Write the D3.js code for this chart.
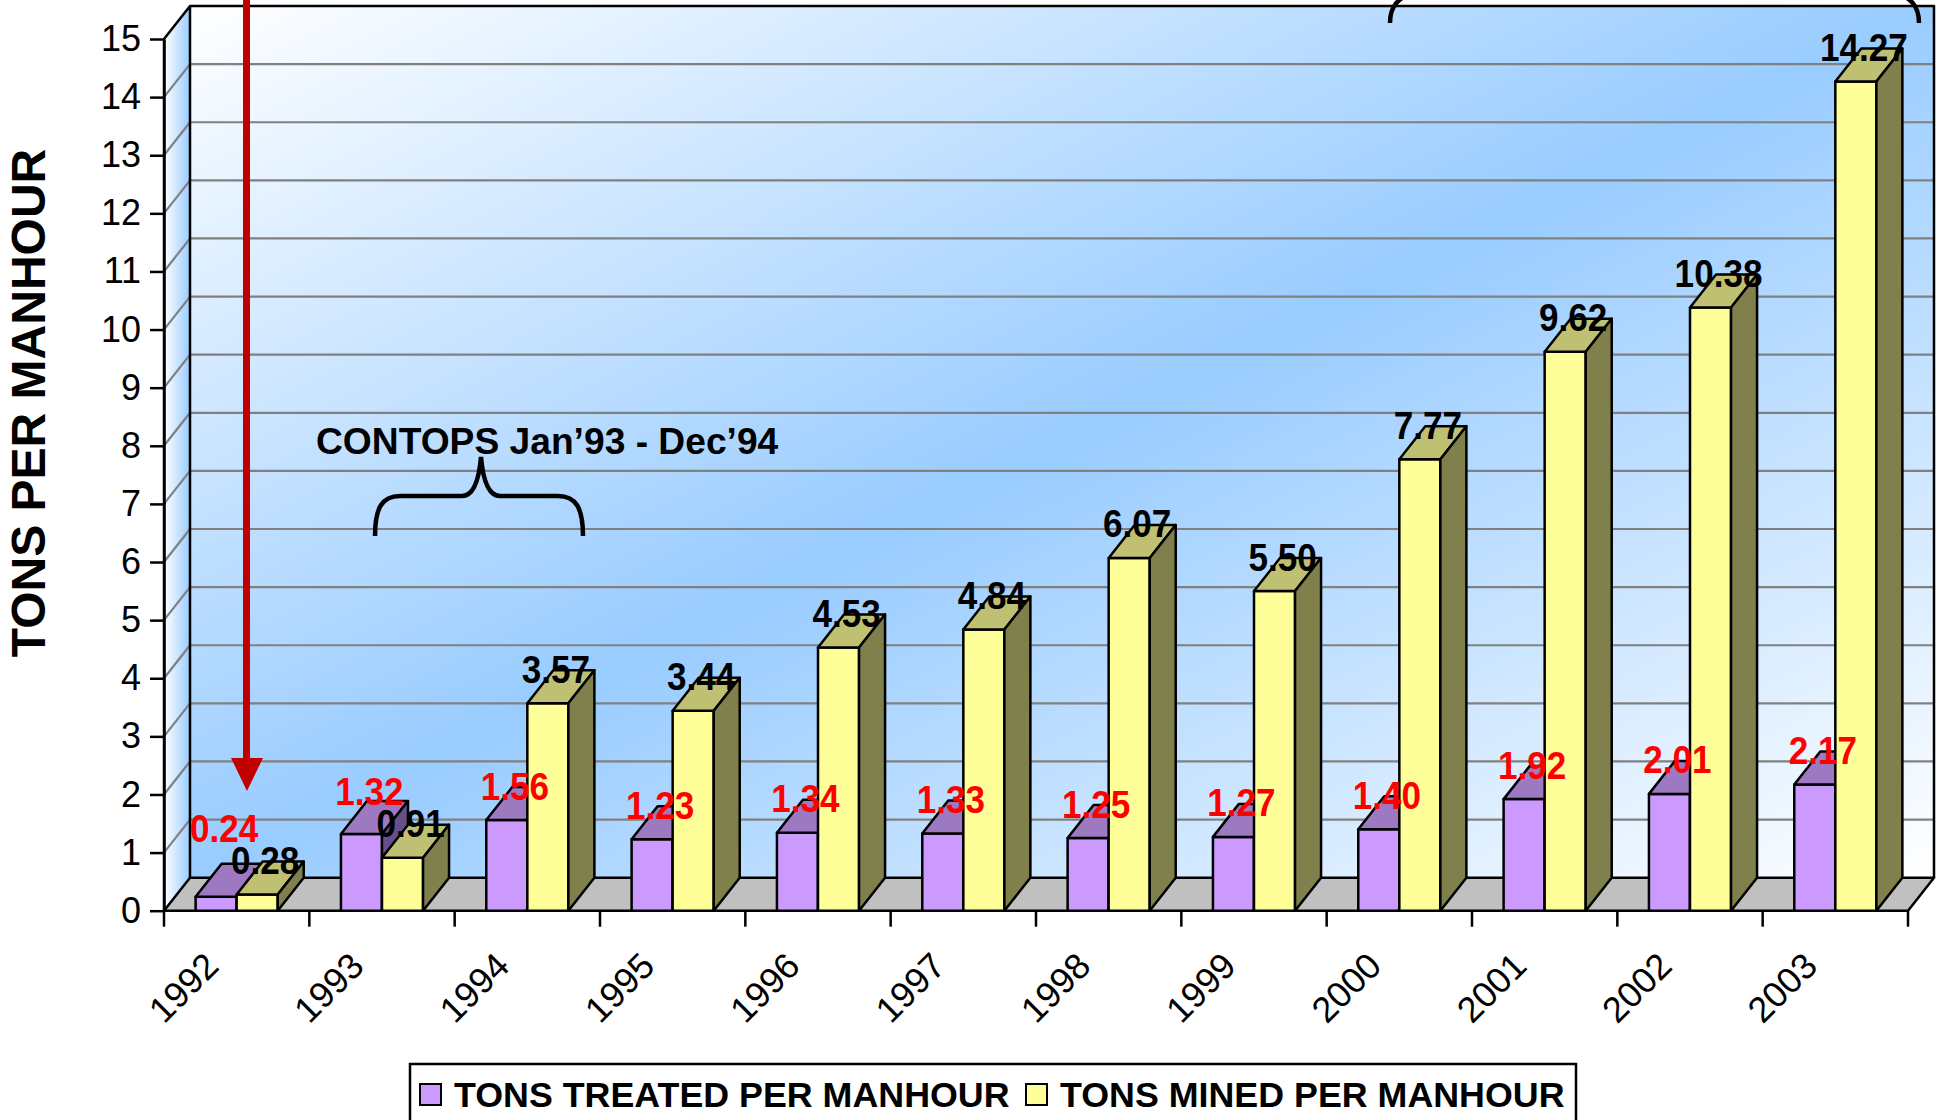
<!DOCTYPE html>
<html>
<head>
<meta charset="utf-8">
<script src="https://cdn.jsdelivr.net/npm/d3@7"></script>
<style>
  body { margin: 0; background: #fff; }
  svg { display: block; font-family: "Liberation Sans", Arial, sans-serif; }
</style>
</head>
<body>
<svg id="chart" width="1946" height="1120"></svg>
<script>
// ==========================================================================
// DATA
// ==========================================================================

var years = ["1992", "1993", "1994", "1995", "1996", "1997", "1998", "1999", "2000", "2001", "2002", "2003"];
var treated = [0.24, 1.32, 1.56, 1.23, 1.34, 1.33, 1.25, 1.27, 1.40, 1.92, 2.01, 2.17];
var mined = [0.28, 0.91, 3.57, 3.44, 4.53, 4.84, 6.07, 5.50, 7.77, 9.62, 10.38, 14.27];
var seriesNames = ["TONS TREATED PER MANHOUR", "TONS MINED PER MANHOUR"];
var yTicks = d3.range(0, 16);
var yTitle = "TONS PER MANHOUR";
var note = "CONTOPS Jan\u201993 - Dec\u201994";

// ==========================================================================
// D3 MAIN
// ==========================================================================

var series = [
  {name: seriesNames[0], values: treated, front: "#cc99ff", top: "#9d79c2", side: "#66508a", label: "#ff0000"},
  {name: seriesNames[1], values: mined, front: "#ffff99", top: "#c0c073", side: "#80804c", label: "#000000"}
];

var svg = d3.select("#chart");
var dx = 26, dy = 33;

var x = d3.scaleBand().domain(years).range([164, 1908]);
var xs = d3.scaleBand().domain([0, 1]).range([0, x.bandwidth()]).paddingOuter(0.77);
var y = d3.scaleLinear().domain([0, 15]).range([910.7, 39]);

var x0 = x.range()[0], x1 = x.range()[1], yb = y(0), yt = y(15);

// gradients
var defs = svg.append("defs");
var wall = defs.append("linearGradient").attr("id", "wallGrad")
  .attr("x1", 0).attr("y1", 0).attr("x2", 1).attr("y2", 1);
wall.append("stop").attr("offset", 0).attr("stop-color", "#ffffff");
wall.append("stop").attr("offset", 0.5).attr("stop-color", "#99ccff");
wall.append("stop").attr("offset", 1).attr("stop-color", "#ffffff");
var side = defs.append("linearGradient").attr("id", "sideGrad")
  .attr("x1", 0).attr("y1", 0).attr("x2", 1).attr("y2", 0);
side.append("stop").attr("offset", 0).attr("stop-color", "#ffffff");
side.append("stop").attr("offset", 1).attr("stop-color", "#99ccff");

// walls
svg.append("rect")
  .attr("x", x0 + dx).attr("y", yt - dy)
  .attr("width", x1 - x0).attr("height", yb - yt)
  .attr("fill", "url(#wallGrad)");
svg.append("path")
  .attr("d", "M" + x0 + "," + yt + "L" + (x0 + dx) + "," + (yt - dy) + "L" + (x0 + dx) + "," + (yb - dy) + "L" + x0 + "," + yb + "Z")
  .attr("fill", "url(#sideGrad)");

// gridlines
var inner = yTicks.filter(v => v > 0 && v < 15);
var grid = svg.append("g").attr("stroke", "#808080").attr("stroke-width", 2.2);
grid.selectAll(".gb").data(inner).enter().append("line")
  .attr("x1", x0 + dx).attr("x2", x1 + dx)
  .attr("y1", d => y(d) - dy).attr("y2", d => y(d) - dy);
grid.selectAll(".gs").data(inner).enter().append("line")
  .attr("x1", x0).attr("x2", x0 + dx)
  .attr("y1", d => y(d)).attr("y2", d => y(d) - dy);

// floor
svg.append("path")
  .attr("d", "M" + x0 + "," + yb + "L" + x1 + "," + yb + "L" + (x1 + dx) + "," + (yb - dy) + "L" + (x0 + dx) + "," + (yb - dy) + "Z")
  .attr("fill", "#c0c0c0").attr("stroke", "#000").attr("stroke-width", 2.5).attr("stroke-linejoin", "round");

// wall outlines
svg.append("path")
  .attr("d", "M" + x0 + "," + yb + "L" + x0 + "," + yt + "L" + (x0 + dx) + "," + (yt - dy) + "L" + (x1 + dx) + "," + (yt - dy) + "L" + (x1 + dx) + "," + (yb - dy)
    + "M" + (x0 + dx) + "," + (yt - dy) + "L" + (x0 + dx) + "," + (yb - dy))
  .attr("fill", "none").attr("stroke", "#000").attr("stroke-width", 2.5).attr("stroke-linejoin", "round");

// bars
var bars = svg.append("g").attr("stroke", "#000").attr("stroke-width", 2.5).attr("stroke-linejoin", "round");
years.forEach(function(yr, i) {
  series.forEach(function(s, k) {
    var bx = x(yr) + xs(k), w = xs.bandwidth(), top = y(s.values[i]);
    bars.append("rect").attr("x", bx).attr("y", top).attr("width", w).attr("height", yb - top).attr("fill", s.front);
    bars.append("path")
      .attr("d", "M" + bx + "," + top + "L" + (bx + dx) + "," + (top - dy) + "L" + (bx + w + dx) + "," + (top - dy) + "L" + (bx + w) + "," + top + "Z")
      .attr("fill", s.top);
    bars.append("path")
      .attr("d", "M" + (bx + w) + "," + top + "L" + (bx + w + dx) + "," + (top - dy) + "L" + (bx + w + dx) + "," + (yb - dy) + "L" + (bx + w) + "," + yb + "Z")
      .attr("fill", s.side);
  });
});

// value labels: centred on the top face, treated label pushed up when it would hit the mined one
var labelSize = 39, capH = 28;
var labelPos = series.map(function(s, k) {
  return s.values.map(function(v, i) {
    return {x: x(years[i]) + xs(k) + xs.bandwidth() / 2 + 8, y: y(v) - dy + 12.5, v: v};
  });
});
labelPos[0].forEach(function(p, i) {
  var m = labelPos[1][i];
  if (Math.abs(p.y - m.y) < capH + 4) p.y = m.y - capH - 4;
});
series.forEach(function(s, k) {
  svg.append("g").selectAll("text").data(labelPos[k]).enter().append("text")
    .attr("transform", d => "translate(" + d.x + "," + d.y + ") scale(0.9,1)")
    .attr("text-anchor", "middle")
    .attr("font-size", labelSize).attr("font-weight", "bold")
    .attr("fill", s.label)
    .text(d => d.v.toFixed(2));
});

// y axis
var yAxis = d3.axisLeft(y).tickValues(yTicks).tickSize(14).tickPadding(9).tickSizeOuter(0);
var gy = svg.append("g").attr("transform", "translate(" + x0 + ",0)").call(yAxis);
gy.attr("font-family", null).attr("font-size", 36);
gy.select(".domain").attr("stroke-width", 2.5);
gy.selectAll(".tick line").attr("stroke-width", 2.5);
gy.selectAll(".tick text").attr("fill", "#000");

// x ticks and labels
svg.append("g").selectAll("line").data(years.map(d => x(d)).concat([x1])).enter().append("line")
  .attr("x1", d => d).attr("x2", d => d).attr("y1", yb).attr("y2", yb + 16)
  .attr("stroke", "#000").attr("stroke-width", 2.5);
svg.append("g").selectAll("text").data(years).enter().append("text")
  .attr("transform", d => "translate(" + (x(d) + x.bandwidth() / 2 - 16) + ",968) rotate(-45)")
  .attr("text-anchor", "end").attr("font-size", 36)
  .text(d => d);

// y title
svg.append("text")
  .attr("transform", "translate(45,403) rotate(-90)")
  .attr("text-anchor", "middle").attr("font-size", 48).attr("font-weight", "bold")
  .text(yTitle);

// annotations
svg.append("text").attr("x", 316).attr("y", 454)
  .attr("font-size", 37.2).attr("font-weight", "bold").text(note);
svg.append("path")
  .attr("d", "M375,536 C375,508 382,496 400,496 L462,496 C474,496 479,480 481,457 C483,480 488,496 500,496 L558,496 C576,496 583,508 583,536")
  .attr("fill", "none").attr("stroke", "#000").attr("stroke-width", 4.5);
svg.append("path")
  .attr("d", "M1390,23 C1390,6 1398,-2 1414,-8 M1919,23 C1919,6 1911,-2 1895,-8")
  .attr("fill", "none").attr("stroke", "#000").attr("stroke-width", 4.5);

// red arrow
svg.append("line").attr("x1", 246.5).attr("x2", 246.5).attr("y1", -5).attr("y2", 762)
  .attr("stroke", "#c00000").attr("stroke-width", 7);
svg.append("path").attr("d", "M231,758 L263,758 L247,791 Z").attr("fill", "#c00000");

// legend
var legend = svg.append("g");
legend.append("rect").attr("x", 410).attr("y", 1064).attr("width", 1166).attr("height", 80)
  .attr("fill", "#fff").attr("stroke", "#000").attr("stroke-width", 2.5);
var legendX = [420, 1026];
series.forEach(function(s, k) {
  legend.append("rect").attr("x", legendX[k]).attr("y", 1084).attr("width", 21).attr("height", 21)
    .attr("fill", s.front).attr("stroke", "#000").attr("stroke-width", 2);
  legend.append("text").attr("x", legendX[k] + 34).attr("y", 1107)
    .attr("font-size", 35.8).attr("font-weight", "bold").text(s.name);
});
</script>
</body>
</html>
